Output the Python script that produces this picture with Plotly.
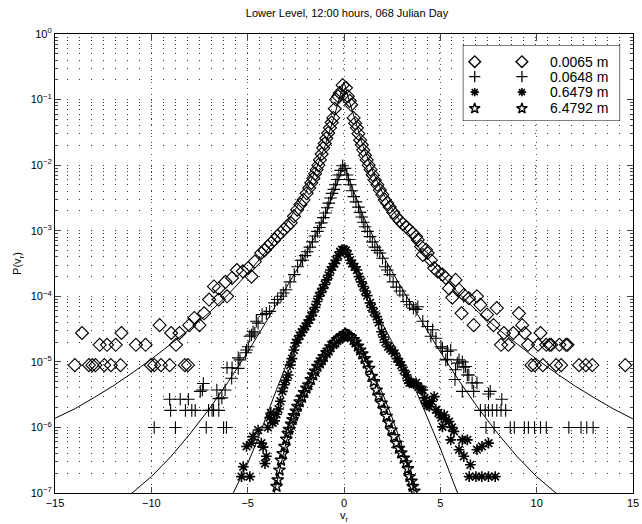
import numpy as np
import plotly.graph_objects as go

title_text = "Lower Level, 12:00 hours, 068 Julian Day"
series_names = ["0.0065 m", "0.0648 m", "0.6479 m", "6.4792 m"]
x_ticks = [-15, -10, -5, 0, 5, 10, 15]
x_tick_text = ["\u221215", "\u221210", "\u22125", "0", "5", "10", "15"]
y_decades = [0, -1, -2, -3, -4, -5, -6, -7]

# ---- series 1 (diamonds, 0.0065 m): v and log10 P
diam_v = [-4.3, -4.13, -3.96, -3.79, -3.62, -3.45, -3.28, -3.11, -2.94, -2.77, -2.6, -2.43, -2.26, -2.1,
          -1.94, -1.81, -1.7, -1.59, -1.5, -1.42, -1.33, -1.25, -1.16, -1.08, -1.0, -0.92, -0.82, -0.73,
          -0.64, -0.56, -0.48, -0.41, -0.3, -0.22, -0.07,
          0.1, 0.2, 0.3, 0.37, 0.5, 0.58, 0.67, 0.75, 0.84, 0.92, 1.0, 1.09, 1.18, 1.28, 1.38, 1.49, 1.6,
          1.73, 1.86, 1.99, 2.12, 2.25, 2.37, 2.55, 2.72, 2.9, 3.06, 3.23, 3.4, 3.57, 3.74, 3.83, 4.0,
          4.09, 4.26, 4.34,
          -4.63, -4.8, -4.97, -5.25, -5.56, -5.81, -6.15, -6.07, -6.5, -6.75, -7.0, -6.5, -7.26, -7.5,
          -7.77, -8.03, -8.54, -8.72, -8.97, -9.57, -10.3, -10.8, -11.55, -11.85, -12.3, -12.68, -13.6,
          -13.97, -13.24, -13.06, -12.9, -12.44, -12.1, -11.6, -10.02, -9.85, -9.5, -9.05, -8.26, -8.1,
          4.51, 4.68, 4.86, 5.11, 5.28, 5.45, 5.79, 5.62, 5.97, 6.22, 6.48, 6.9, 6.1, 6.73, 7.08, 7.42,
          7.76, 7.93, 8.3, 8.15, 8.53, 8.79, 9.08, 9.25, 9.38, 9.55, 10.07, 10.2, 10.5, 10.67, 10.75,
          11.18, 11.52, 11.6,
          9.73, 9.9, 10.32, 11.01, 11.27, 12.2, 12.55, 12.89, 14.6]
diam_log10p = [-3.34, -3.3, -3.24, -3.19, -3.14, -3.08, -3.03, -2.98, -2.93, -2.88, -2.78, -2.68, -2.6, -2.53,
               -2.43, -2.35, -2.27, -2.2, -2.13, -2.07, -2.0, -1.92, -1.83, -1.74, -1.67, -1.59, -1.51, -1.43,
               -1.35, -1.28, -1.14, -1.0, -0.95, -0.9, -0.78,
               -0.82, -0.95, -1.02, -1.08, -1.28, -1.36, -1.43, -1.52, -1.62, -1.69, -1.77, -1.85, -1.92, -2.0,
               -2.07, -2.15, -2.23, -2.3, -2.38, -2.45, -2.53, -2.58, -2.64, -2.72, -2.79, -2.85, -2.9, -2.94,
               -2.99, -3.04, -3.09, -3.14, -3.24, -3.37, -3.29, -3.34,
               -3.47, -3.7, -3.57, -3.62, -3.6, -3.72, -3.78, -4.0, -3.88, -3.85, -4.05, -4.05, -4.26, -4.44,
               -4.33, -4.44, -4.56, -4.74, -4.56, -4.44, -4.74, -4.74, -4.56, -4.74, -4.74, -4.74, -4.56,
               -5.05, -5.05, -5.05, -5.05, -5.05, -5.05, -5.05, -5.05, -5.05, -5.05, -5.05, -5.05, -5.05,
               -3.45, -3.57, -3.62, -3.67, -3.72, -3.88, -3.75, -4.02, -3.9, -3.98, -4.03, -4.0, -4.26, -4.44,
               -4.13, -4.28, -4.44, -4.18, -4.56, -4.74, -4.74, -4.56, -4.26, -4.44, -4.56, -4.74, -4.74,
               -4.56, -4.74, -4.74, -4.74, -4.74, -4.74, -4.74,
               -5.05, -5.05, -5.05, -5.05, -5.05, -5.05, -5.05, -5.05, -5.05]

# ---- series 2 (plus, 0.0648 m)
plus_v = [-2.15, -2.02, -1.9, -1.77, -1.64, -1.5, -1.38, -1.28, -1.18, -1.07, -0.96, -0.87, -0.79, -0.7,
          -0.62, -0.53, -0.45, -0.36, -0.27, -0.17, -0.07, 0.05, 0.15, 0.23, 0.32, 0.41, 0.5, 0.62, 0.75,
          0.83, 0.92, 1.0, 1.09, 1.22, 1.35, 1.47, 1.6, 1.73, 1.86, 2.0,
          2.15, 2.25, 2.38, 2.55, 2.72, 2.9, 3.06, 3.25, 3.4, 3.6, 3.74, 3.83, 4.09, 4.34, 4.6, 4.51, 4.77,
          5.03, 5.11, 5.37, 5.54, 5.37, 5.28, 5.88, 5.97, 6.14, 6.31, 6.22, 5.79, 6.4, 6.48, 5.76, 6.65,
          6.9, 6.73, 6.14, 7.5, 7.59, 8.19,
          7.08, 7.33, 7.5, 7.7, 7.93, 8.15, 8.39,
          7.37, 7.79, 8.63, 8.84, 9.36, 9.57, 9.89, 10.2, 10.5, 11.67, 12.3, 12.6, 12.93,
          -2.24, -2.41, -2.58, -2.8, -3.01, -3.15, -3.27, -3.45, -3.61, -3.86, -4.03, -4.25, -4.46, -4.55,
          -4.63, -4.72, -4.8, -4.89, -4.97, -5.06, -5.1, -5.4, -5.49, -5.49, -5.81, -6.07, -5.83, -6.17,
          -6.34, -6.6, -6.5, -7.46, -7.3, -7.35,
          -6.5, -6.77, -6.85, -7.03, -7.72, -7.9, -8.23, -9.0,
          -9.05, -8.5, -8.08,
          -9.85, -8.75, -7.15, -6.25, -6.1]
plus_log10p = [-3.45, -3.38, -3.32, -3.25, -3.17, -3.08, -3.01, -2.95, -2.88, -2.8, -2.73, -2.65, -2.58, -2.5,
               -2.43, -2.37, -2.3, -2.22, -2.15, -2.08, -2.01, -2.05, -2.15, -2.22, -2.3, -2.39, -2.48, -2.56,
               -2.64, -2.72, -2.79, -2.87, -2.94, -3.01, -3.09, -3.17, -3.25, -3.3, -3.34, -3.42,
               -3.55, -3.6, -3.67, -3.78, -3.86, -3.92, -3.98, -4.08, -4.13, -4.18, -4.2, -4.16, -4.38, -4.46,
               -4.51, -4.61, -4.64, -4.77, -4.79, -4.84, -4.82, -4.96, -4.97, -5.02, -4.97, -5.0, -5.07, -5.08,
               -5.12, -5.2, -5.2, -5.27, -5.32, -5.32, -5.45, -5.45, -5.49, -5.45, -5.57,
               -5.74, -5.74, -5.74, -5.74, -5.74, -5.74, -5.74,
               -6.0, -6.0, -6.0, -6.0, -6.0, -6.0, -6.0, -6.0, -6.0, -6.0, -6.0, -6.0, -6.0,
               -3.45, -3.55, -3.67, -3.78, -3.9, -3.95, -4.0, -4.05, -4.1, -4.23, -4.26, -4.28, -4.41, -4.38,
               -4.56, -4.54, -4.59, -4.61, -4.77, -4.82, -4.86, -4.97, -4.94, -5.1, -5.09, -5.09, -5.25, -5.43,
               -5.55, -5.43, -5.56, -5.45, -5.33, -5.43,
               -5.74, -5.74, -5.74, -5.74, -5.74, -5.74, -5.74, -5.74,
               -5.57, -5.57, -5.57,
               -6.0, -6.0, -6.0, -6.0, -6.0]

# ---- series 3 (asterisks, 0.6479 m)
ast_v = [0.0, -0.1, -0.2, -0.3, -0.4, -0.5, -0.6, -0.7, -0.8, -0.9, -1.0, -1.1, -1.2, -1.3, -1.4, -1.5,
         -1.6, -1.7, -1.8, -1.9, -2.0, -2.1, -2.2, -2.3, -2.4, -2.5, -2.6, -2.7, -2.8, -2.9, -3.0, -3.1,
         -3.2, -3.3, -3.4, -3.5, -3.6, -3.7, -3.8, -3.86, -3.95,
         -4.03, -4.29, -4.46, -4.72, -4.8, -5.06, -5.23, -5.32, -4.89, -4.2, -4.1,
         0.1, 0.2, 0.32, 0.42, 0.55, 0.67, 0.78, 0.9, 1.0, 1.1, 1.2, 1.35, 1.45, 1.55, 1.69, 1.8, 1.95,
         2.05, 2.15, 2.29, 2.4, 2.5, 2.63, 2.75, 2.87, 2.97, 3.1, 3.23, 3.32, 3.4, 3.5, 3.6, 3.74, 3.85,
         4.0, 4.09, 4.18, 4.26, 4.35, 4.43, 4.55, 4.68, 4.77, 4.9, 5.05, 5.2, 5.11, 5.3, 5.45, 5.6, 5.71,
         5.54, 5.97, 6.14, 6.4, 6.22, 6.56, 6.9, 7.16, 7.5, 6.5, 6.85, 7.15, 7.5, 7.85]
ast_log10p = [-3.29, -3.29, -3.32, -3.38, -3.45, -3.5, -3.55, -3.6, -3.68, -3.75, -3.82, -3.88, -3.94, -4.0,
              -4.08, -4.17, -4.24, -4.3, -4.36, -4.41, -4.46, -4.5, -4.55, -4.6, -4.66, -4.71, -4.82, -4.95,
              -5.05, -5.2, -5.28, -5.35, -5.45, -5.6, -5.72, -5.8, -5.9, -5.93, -5.78, -5.85, -6.0,
              -6.44, -6.24, -6.04, -6.14, -6.24, -6.29, -6.6, -6.75, -6.75, -6.3, -6.55,
              -3.3, -3.36, -3.45, -3.5, -3.55, -3.6, -3.7, -3.78, -3.85, -3.92, -3.99, -4.1, -4.17, -4.24,
              -4.31, -4.4, -4.54, -4.62, -4.7, -4.77, -4.8, -4.83, -4.87, -4.95, -5.0, -5.05, -5.13, -5.2,
              -5.28, -5.32, -5.32, -5.33, -5.32, -5.38, -5.42, -5.43, -5.55, -5.63, -5.66, -5.68, -5.6, -5.53,
              -5.73, -5.78, -5.85, -5.81, -5.99, -5.88, -5.91, -6.0, -6.06, -6.19, -6.34, -6.19, -6.19, -6.44,
              -6.57, -6.34, -6.29, -6.24, -6.75, -6.75, -6.75, -6.75, -6.75]

# ---- series 4 (pentagrams, 6.4792 m)
star_v = [0.15, 0.05, -0.05, -0.15, -0.25, -0.36, -0.45, -0.55, -0.7, -0.8, -0.9, -1.05, -1.15, -1.25,
          -1.38, -1.5, -1.6, -1.72, -1.85, -1.95, -2.07, -2.18, -2.3, -2.41, -2.5, -2.6, -2.67, -2.75,
          -2.85, -2.92, -3.0, -3.09, -3.18, -3.27, -3.35, -3.44, -3.5,
          0.25, 0.35, 0.5, 0.6, 0.72, 0.84, 0.95, 1.07, 1.18, 1.3, 1.44, 1.55, 1.69, 1.8, 1.95, 2.07, 2.21,
          2.33, 2.46, 2.6, 2.72, 2.85, 2.97, 3.1, 3.23, 3.32, 3.4, 3.5, 3.57, 3.65]
star_log10p = [-4.59, -4.57, -4.6, -4.62, -4.64, -4.66, -4.7, -4.72, -4.77, -4.82, -4.86, -4.92, -4.97, -5.02,
               -5.07, -5.14, -5.2, -5.27, -5.35, -5.4, -5.47, -5.54, -5.61, -5.68, -5.75, -5.82, -5.88, -5.95,
               -6.03, -6.09, -6.18, -6.29, -6.4, -6.5, -6.65, -6.8, -6.9,
               -4.6, -4.62, -4.66, -4.7, -4.76, -4.82, -4.88, -4.95, -5.02, -5.1, -5.22, -5.3, -5.43, -5.52,
               -5.63, -5.72, -5.83, -5.93, -6.04, -6.14, -6.24, -6.32, -6.39, -6.47, -6.54, -6.63, -6.75,
               -6.82, -6.9, -6.97]

# ---- fitted curves
fit1_v = [-15, -14, -13, -12, -11, -10, -9, -8, -7, -6, -5, -4, -3, -2, -1.5, -1, -0.5, -0.25, 0,
          0.25, 0.5, 1, 1.5, 2, 3, 4, 5, 6, 7, 8, 9, 10, 11, 12, 13, 14, 15]
fit1_log10p = [-5.86, -5.72, -5.55, -5.37, -5.17, -4.96, -4.73, -4.5, -4.25, -3.97, -3.65, -3.3, -2.9, -2.42,
               -2.1, -1.72, -1.25, -1.0, -0.73,
               -1.0, -1.25, -1.72, -2.1, -2.42, -2.9, -3.3, -3.65, -3.97, -4.25, -4.5, -4.73, -4.96, -5.17,
               -5.37, -5.55, -5.72, -5.87]
fit2_v = [-11.5, -11, -10, -9, -8, -7, -6, -5, -4, -3, -2, -1.5, -1, -0.5, -0.25, 0,
          0.25, 0.5, 1, 1.5, 2, 3, 4, 5, 6, 7, 8, 9, 10, 11, 11.5]
fit2_log10p = [-7.1, -7.0, -6.75, -6.45, -6.1, -5.72, -5.3, -4.85, -4.37, -3.88, -3.37, -3.08, -2.78, -2.4,
               -2.2, -1.98,
               -2.2, -2.4, -2.78, -3.08, -3.37, -3.88, -4.37, -4.85, -5.3, -5.72, -6.1, -6.45, -6.75, -7.0, -7.1]
fit3_v = [-6, -5.5, -5, -4.5, -4, -3.5, -3, -2.5, -2, -1.5, -1, -0.5, -0.25, 0,
          0.25, 0.5, 1, 1.5, 2, 2.5, 3, 3.5, 4, 4.5, 5, 5.5, 6]
fit3_log10p = [-7.15, -6.85, -6.55, -6.2, -5.8, -5.42, -5.05, -4.72, -4.42, -4.12, -3.85, -3.57, -3.42, -3.28,
               -3.42, -3.57, -3.86, -4.14, -4.43, -4.7, -4.97, -5.28, -5.62, -5.97, -6.32, -6.7, -7.08]
fit4_v = [-3.7, -3.5, -3, -2.5, -2, -1.5, -1, -0.5, 0, 0.5, 1, 1.5, 2, 2.5, 3, 3.5, 3.7]
fit4_log10p = [-7.1, -6.85, -6.22, -5.8, -5.45, -5.17, -4.93, -4.72, -4.55, -4.72, -4.93, -5.18, -5.48, -5.85,
               -6.27, -6.8, -7.08]

FONT = "Liberation Sans, Arial, Helvetica, sans-serif"
fig = go.Figure()

curves = [(fit1_v, fit1_log10p), (fit2_v, fit2_log10p), (fit3_v, fit3_log10p), (fit4_v, fit4_log10p)]
for cv, cl in curves:
    fig.add_trace(go.Scatter(x=cv, y=10 ** np.array(cl), mode="lines",
                             line=dict(color="black", width=1), showlegend=False, hoverinfo="skip"))

marker_styles = [
    dict(symbol="diamond-open", size=10, color="black", line=dict(width=1.1, color="black")),
    dict(symbol="cross-thin-open", size=9, color="black", line=dict(width=1.1, color="black")),
    dict(symbol="asterisk-open", size=9, color="black", line=dict(width=1.6, color="black")),
    dict(symbol="star-open", size=9, color="black", line=dict(width=1.4, color="black")),
]
legend_styles = [
    dict(symbol="diamond-open", size=9, color="black", line=dict(width=1.4, color="black")),
    dict(symbol="cross-thin-open", size=8, color="black", line=dict(width=1.3, color="black")),
    dict(symbol="asterisk-open", size=7, color="black", line=dict(width=1.6, color="black")),
    dict(symbol="star-open", size=8, color="black", line=dict(width=1.4, color="black")),
]
series = [(diam_v, diam_log10p), (plus_v, plus_log10p), (ast_v, ast_log10p), (star_v, star_log10p)]
for (sv, sl), ms, name in zip(series, marker_styles, series_names):
    fig.add_trace(go.Scatter(x=sv, y=10 ** np.array(sl), mode="markers", marker=ms,
                             name=name, showlegend=False))

# custom MATLAB-style legend (two symbols + label per entry) on an overlay axis
leg_rows = [0.78, 0.585, 0.38, 0.165]
for ms, row in zip(legend_styles, leg_rows):
    fig.add_trace(go.Scatter(x=[0.076, 0.376], y=[row, row], mode="markers", marker=ms,
                             xaxis="x2", yaxis="y2", showlegend=False, hoverinfo="skip"))
for name, row in zip(series_names, leg_rows):
    fig.add_annotation(x=0.55, y=row, xref="x2", yref="y2", text=name, showarrow=False,
                       xanchor="left", yanchor="middle", borderpad=0,
                       font=dict(family=FONT, size=14, color="black"))
fig.add_shape(type="rect", xref="x2", yref="y2", x0=0, x1=1, y0=0, y1=1, layer="below",
              line=dict(color="black", width=1.2), fillcolor="white")

minor_vals = [m * 10.0 ** d for d in range(-7, 0) for m in range(2, 10)]

fig.update_layout(
    width=642, height=524,
    margin=dict(l=55, r=3, t=34, b=31),
    paper_bgcolor="white", plot_bgcolor="white",
    font=dict(family=FONT, size=11, color="black"),
    title=dict(text=title_text, x=0.5 * (55 + 639) / 642, xanchor="center",
               y=1 - 13 / 524, yanchor="middle", font=dict(size=11)),
    xaxis=dict(range=[-15, 15], tickvals=x_ticks, ticktext=x_tick_text, ticks="inside", ticklen=6,
               showline=True, linecolor="black", linewidth=1.2, mirror="ticks",
               ticklabeloverflow="allow",
               showgrid=True, gridcolor="#555", gridwidth=1, griddash="1px,5px", zeroline=False,
               title=dict(text="v<sub>r</sub>", standoff=2, font=dict(size=11))),
    yaxis=dict(type="log", range=[-7, 0],
               tickvals=[10.0 ** d for d in y_decades],
               ticktext=["10<sup>%s</sup>" % (str(d).replace("-", "\u2212")) for d in y_decades],
               ticks="inside", ticklen=6, showline=True, linecolor="black", linewidth=1.2, mirror="ticks",
               showgrid=True, gridcolor="#333", gridwidth=1, griddash="1px,11px", zeroline=False,
               minor=dict(tickvals=minor_vals, ticks="inside", ticklen=3, showgrid=True,
                          gridcolor="#333", gridwidth=1, griddash="1px,11px"),
               title=dict(text="P(v<sub>r</sub>)", standoff=6, font=dict(size=11))),
    xaxis2=dict(domain=[(467 - 55) / 584, (626 - 55) / 584], range=[0, 1], visible=False,
                fixedrange=True, anchor="y2"),
    yaxis2=dict(domain=[(493 - 121) / 459, (493 - 45) / 459], range=[0, 1], visible=False,
                fixedrange=True, anchor="x2"),
    showlegend=False,
)

fig.write_html("out.html")
